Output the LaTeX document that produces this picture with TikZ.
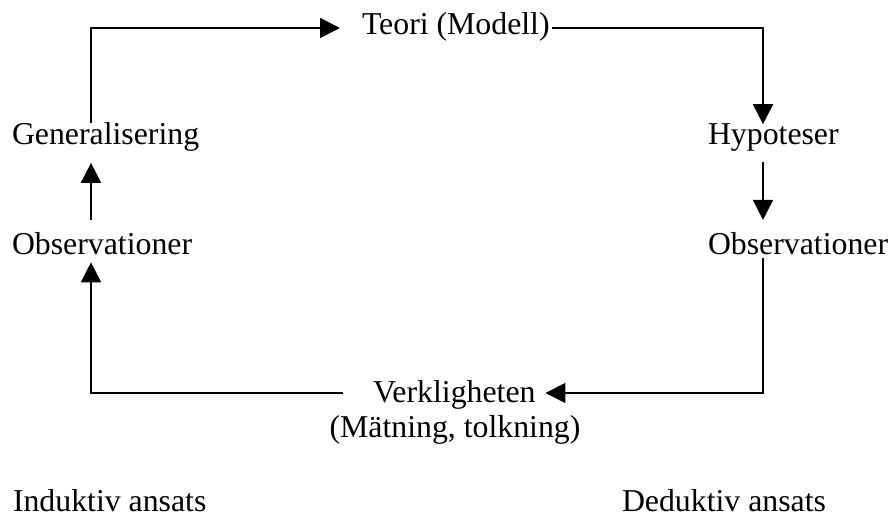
\documentclass[tikz,border=0pt]{standalone}
\usepackage{fontspec}
\setmainfont{Liberation Serif}
\usetikzlibrary{arrows.meta}
\begin{document}
\begin{tikzpicture}[x=0.5pt,y=-0.5pt,
  lab/.style={inner sep=0pt,outer sep=0pt,font=\fontsize{15.9}{19}\selectfont},
  conn/.style={line width=0.85pt},
  arr/.style={conn,-{Triangle[length=10pt,width=10pt]}}]
\useasboundingbox (0,0) rectangle (894,517);
\node[lab,anchor=base west] (teori) at (362,35) {Teori (Modell)};
\node[lab,anchor=base west] (hyp) at (708,145) {Hypoteser};
\node[lab,anchor=base west] (obsR) at (708,255) {Observationer};
\node[lab,anchor=base west] (verk) at (373,403) {Verkligheten};
\node[lab,anchor=base] (mat) at (455,438) {(Mätning, tolkning)};
\node[lab,anchor=base west] (gen) at (12,145) {Generalisering};
\node[lab,anchor=base west] (obsL) at (12,255) {Observationer};
\node[lab,anchor=base west] (ind) at (13,512) {Induktiv ansats};
\node[lab,anchor=base west] (ded) at (622,512) {Deduktiv ansats};
\coordinate (tl) at (91,28);
\coordinate (tr) at (763,28);
\coordinate (br) at (763,393);
\coordinate (bl) at (91,393);
% Generalisering -> Teori
\draw[arr,shorten >=11pt] (tl |- gen.north) -- (tl) -- (tl -| teori.west);
% Teori -> Hypoteser
\draw[arr] ([xshift=1pt]tr -| teori.east) -- (tr) -- (tr |- hyp.north);
% Hypoteser -> Observationer
\draw[arr,shorten <=5pt,shorten >=6.5pt] (tr |- hyp.south) -- (tr |- obsR.north);
% Observationer -> Verkligheten
\draw[arr,shorten >=5pt] ([yshift=-1.5pt]br |- obsR.south) -- (br) -- (br -| verk.east);
% Verkligheten -> Observationer (left)
\draw[arr,shorten <=15pt,shorten >=3.5pt] (bl -| verk.west) -- (bl) -- (bl |- obsL.south);
% Observationer -> Generalisering
\draw[arr,shorten <=6.5pt,shorten >=5.5pt] (tl |- obsL.north) -- (tl |- gen.south);
\end{tikzpicture}
\end{document}
